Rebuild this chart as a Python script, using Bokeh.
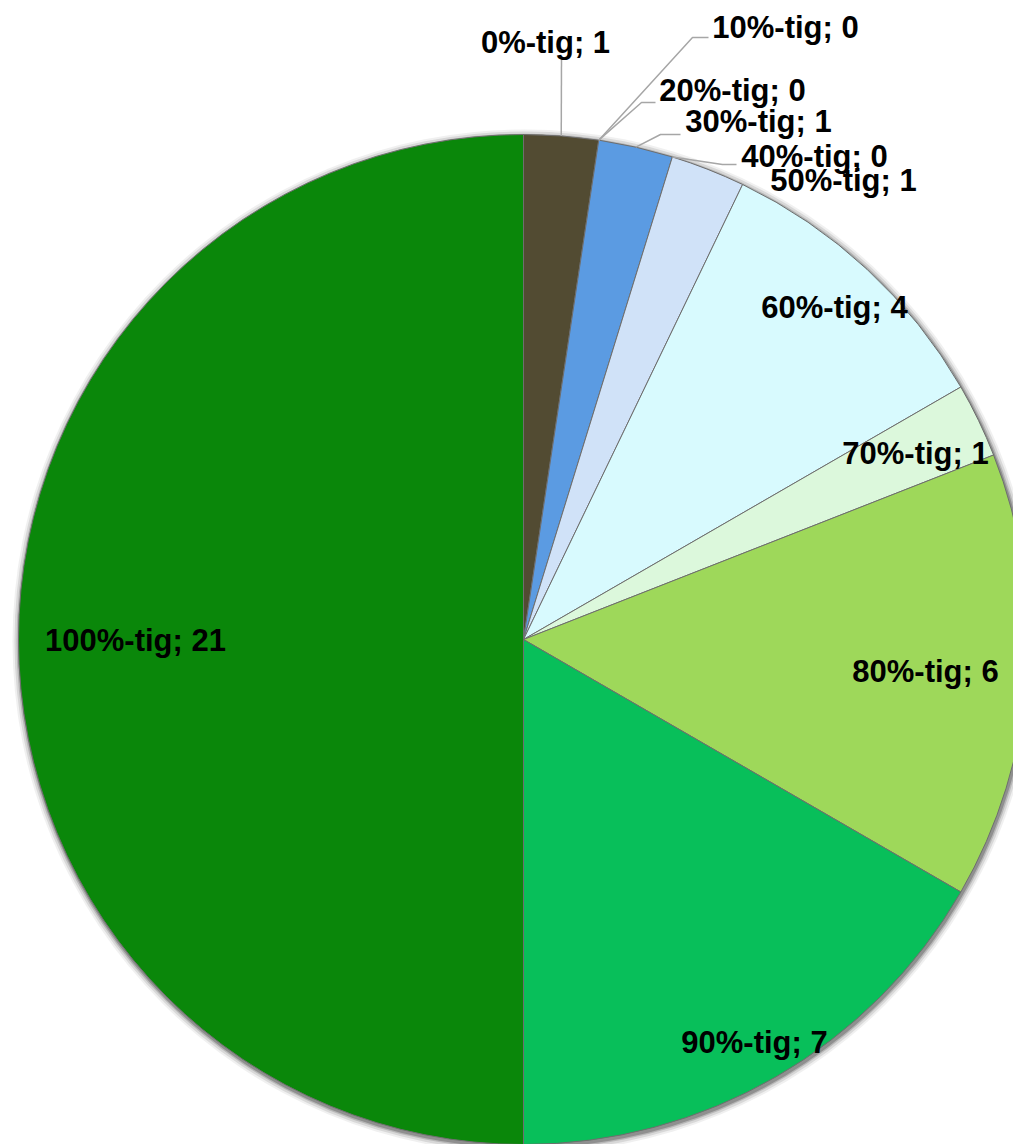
import math
from bokeh.plotting import figure
from bokeh.models import Range1d, ColumnDataSource
from bokeh.core.properties import value
from bokeh.embed import file_html
from bokeh.resources import INLINE

# ---- data ----
categories = ["0%-tig", "10%-tig", "20%-tig", "30%-tig", "40%-tig", "50%-tig",
              "60%-tig", "70%-tig", "80%-tig", "90%-tig", "100%-tig"]
counts = [1, 0, 0, 1, 0, 1, 4, 1, 6, 7, 21]

# ---- styles / layout ----
colors = ["#524b32", "#4f81bd", "#c0504d", "#5b9be2", "#8064a2", "#d0e2f8",
          "#d8fafe", "#dcf8dc", "#9ed85a", "#08bf5a", "#0a870a"]
label_pos = [(22, 597), (262, 612), (209, 549), (235, 518), (291, 483), (320, 459),
             (311, 332), (392, 186), (402, -32), (231, -403), (-388, -1)]
# leader line: (label-side end, elbow) or None
leaders = [((38, 582), (38, 582)), ((185, 602), (169, 602)), ((132, 537), (118, 537)),
           ((157, 505), (137, 505)), ((213, 475), (199, 475)), None,
           None, None, None, None, None]
R = 505
W, H = 1013, 1144
CX, CY = 523, 639  # pie centre in figure pixels from top-left

total = sum(counts)
starts, ends, mids = [], [], []
a = math.pi / 2
for c in counts:
    sweep = 2 * math.pi * c / total
    starts.append(a)
    ends.append(a - sweep)
    mids.append(a - sweep / 2)
    a -= sweep

p = figure(width=W, height=H, output_backend="svg", toolbar_location=None,
           x_range=Range1d(-CX, W - CX), y_range=Range1d(CY - H, CY),
           min_border=0)
p.axis.visible = False
p.grid.visible = False
p.outline_line_color = None
p.background_fill_color = "white"
p.border_fill_color = "white"

# soft shadow
for k, al in [(7, 0.08), (5, 0.14), (3, 0.22), (1.5, 0.35)]:
    p.circle(x=[1], y=[-2], radius=R + k, fill_color="#444444", fill_alpha=al,
             line_color=None)

idx = [i for i, c in enumerate(counts) if c > 0]
src = ColumnDataSource(dict(
    start=[ends[i] for i in idx], end=[starts[i] for i in idx],
    color=[colors[i] for i in idx]))
p.wedge(x=0, y=0, radius=R, start_angle="start", end_angle="end",
        direction="anticlock", fill_color="color", line_color="#6e6e6e",
        line_width=1, source=src)

# leader lines
for i, ld in enumerate(leaders):
    if ld is None:
        continue
    px = R * math.cos(mids[i])
    py = R * math.sin(mids[i])
    (lx, ly), (ex, ey) = ld
    p.line(x=[lx, ex, px], y=[ly, ey, py], line_color="#a6a6a6", line_width=1.5)

texts = [f"{c}; {v}" for c, v in zip(categories, counts)]
p.text(x=[q[0] for q in label_pos], y=[q[1] for q in label_pos], text=texts,
       text_font=value("Liberation Sans"), text_font_style="bold",
       text_font_size="31px", text_color="black", text_align="center",
       text_baseline="middle")

open("out.html", "w").write(file_html(p, INLINE))
